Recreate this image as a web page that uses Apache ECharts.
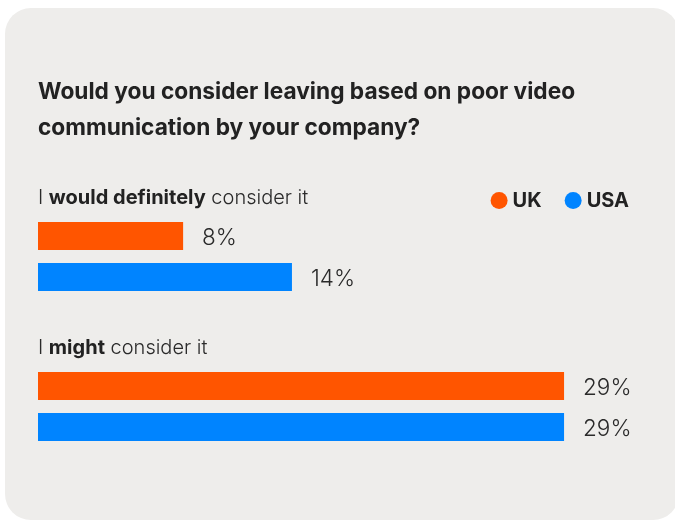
<!DOCTYPE html>
<html>
<head>
<meta charset="utf-8">
<script src="https://cdn.jsdelivr.net/npm/echarts@6/dist/echarts.min.js"></script>
<style>
  html, body { margin: 0; padding: 0; background: #ffffff; width: 675px; height: 521px; overflow: hidden; }
  #card { position: absolute; left: 5px; top: 8px; width: 674px; height: 512px; background: #eeedeb; border-radius: 26px; }
  #chart { position: absolute; left: 0; top: 0; width: 675px; height: 521px; }
</style>
</head>
<body>
<div id="card"></div>
<div id="chart"></div>
<script>
const titleText = 'Would you consider leaving based on poor video\ncommunication by your company?';
const categories = ['I would definitely consider it', 'I might consider it'];
const emphasized = ['would definitely', 'might'];
const seriesNames = ['UK', 'USA'];
const ukValues = [8, 29];
const usaValues = [14, 29];
const colors = ['#ff5500', '#0084ff'];

const chart = echarts.init(document.getElementById('chart'), null, { renderer: 'canvas' });

function catFormatter(value, idx) {
  const i = categories.indexOf(value);
  const em = emphasized[i];
  const pos = value.indexOf(em);
  const before = value.slice(0, pos);
  const after = value.slice(pos + em.length);
  return '{n|' + before + '}{b|' + em + '}{n|' + after + '}';
}

const labelStyle = {
  show: true,
  position: 'right',
  distance: 19,
  offset: [0, 2],
  formatter: '{c}%',
  fontFamily: 'Inter',
  fontSize: 22.5,
  fontWeight: 300,
  color: '#2a2a2a'
};

chart.setOption({
  backgroundColor: 'transparent',
  animation: false,
  title: {
    text: titleText,
    left: 38,
    top: 74,
    padding: 0,
    textStyle: {
      fontFamily: 'Inter',
      fontSize: 22.7,
      fontWeight: 700,
      color: '#222222',
      lineHeight: 36
    }
  },
  legend: {
    data: seriesNames,
    right: 46,
    top: 190.5,
    padding: 0,
    icon: 'circle',
    itemWidth: 17,
    itemHeight: 17,
    itemGap: 23,
    textStyle: {
      fontFamily: 'Inter',
      fontSize: 20,
      fontWeight: 700,
      color: '#222222'
    }
  },
  grid: {
    left: 38,
    top: 181.5,
    height: 300,
    width: 544.2
  },
  xAxis: {
    type: 'value',
    min: 0,
    max: 30,
    show: false
  },
  yAxis: {
    type: 'category',
    data: categories,
    inverse: true,
    axisLine: { show: false },
    axisTick: { show: false },
    splitLine: { show: false },
    axisLabel: {
      inside: true,
      margin: 0,
      interval: 0,
      verticalAlign: 'middle',
      padding: [0, 0, 117, 0],
      formatter: catFormatter,
      rich: {
        n: { fontFamily: 'Inter', fontSize: 20, fontWeight: 300, color: '#2a2a2a' },
        b: { fontFamily: 'Inter', fontSize: 20, fontWeight: 700, color: '#222222' }
      }
    }
  },
  series: [
    {
      name: seriesNames[0],
      type: 'bar',
      data: ukValues,
      barWidth: 28,
      barGap: '46%',
      itemStyle: { color: colors[0] },
      label: labelStyle
    },
    {
      name: seriesNames[1],
      type: 'bar',
      data: usaValues,
      barWidth: 28,
      barGap: '46%',
      itemStyle: { color: colors[1] },
      label: labelStyle
    }
  ]
});
</script>
</body>
</html>
